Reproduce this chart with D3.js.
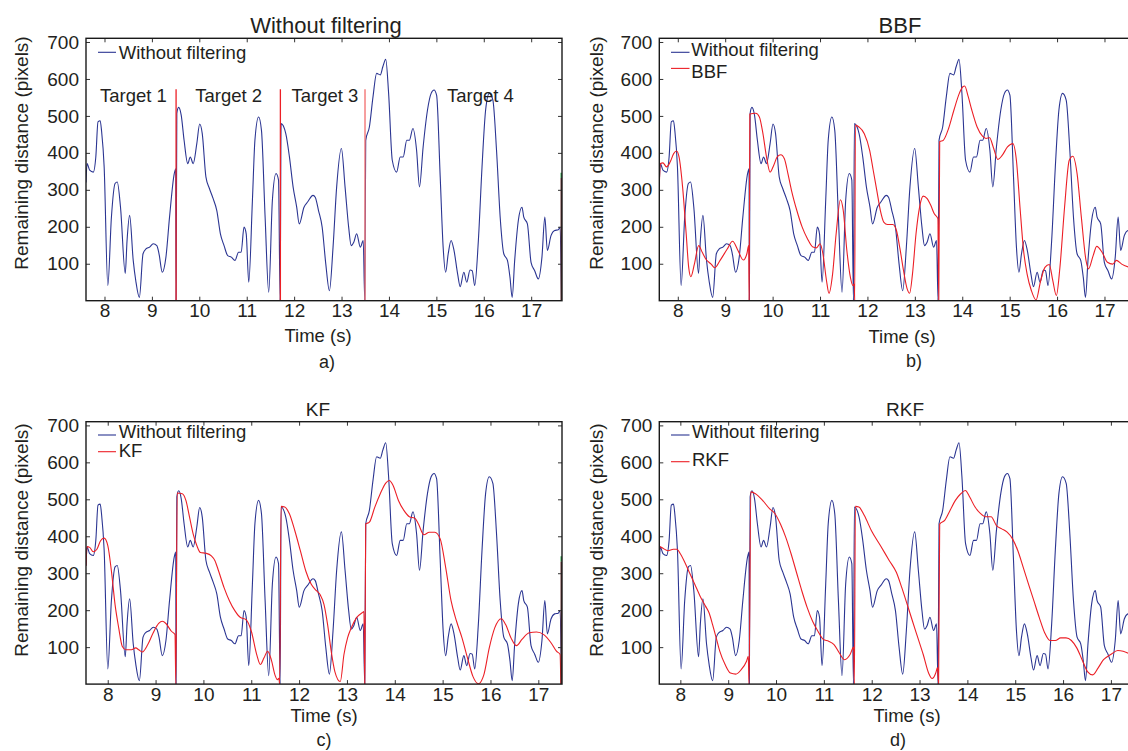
<!DOCTYPE html>
<html>
<head>
<meta charset="utf-8">
<script src="https://cdn.jsdelivr.net/npm/d3@7"></script>
<style>
  body { margin: 0; background: #fff; }
  svg { font-family: Arial, "Liberation Sans", Helvetica, sans-serif; fill: #231f20; }
</style>
</head>
<body>
<svg id="chart" width="1128" height="751"></svg>
<script>
// ---- data (time in s, remaining distance in pixels) ----
const rawTime = [7.61, 7.633, 7.687, 7.763, 7.817, 7.863, 7.909, 7.94, 7.993, 8.07, 8.146, 8.223, 8.269, 8.338, 8.438, 8.476, 8.53, 8.606, 8.66, 8.736, 8.813, 8.874, 8.951, 9.028, 9.104, 9.15, 9.219, 9.296, 9.372, 9.472, 9.503, 9.51,
  9.526, 9.564, 9.618, 9.679, 9.756, 9.809, 9.871, 9.947, 10.008, 10.062, 10.139, 10.215, 10.292, 10.369, 10.445, 10.522, 10.599, 10.675, 10.752, 10.828, 10.882, 10.943, 10.989, 11.043, 11.12, 11.173, 11.25, 11.311, 11.388, 11.464, 11.541, 11.618, 11.671, 11.705,
  11.725, 11.824, 11.901, 11.978, 12.054, 12.108, 12.208, 12.284, 12.399, 12.445, 12.514, 12.591, 12.668, 12.744, 12.821, 12.897, 12.997, 13.074, 13.15, 13.204, 13.258, 13.319, 13.396, 13.457, 13.49,
  13.51, 13.587, 13.664, 13.74, 13.817, 13.871, 13.932, 13.993, 14.07, 14.162, 14.238, 14.3, 14.376, 14.43, 14.506, 14.583, 14.644, 14.721, 14.813, 14.89, 14.951, 15.005, 15.081, 15.143, 15.196, 15.25, 15.311, 15.372, 15.449, 15.503, 15.579, 15.641, 15.71, 15.756, 15.809, 15.886, 15.963, 16.039, 16.116, 16.192, 16.269, 16.346, 16.422, 16.499, 16.553, 16.599, 16.652, 16.729, 16.806, 16.844, 16.92, 16.997, 17.074, 17.15, 17.227, 17.288, 17.341, 17.418, 17.495, 17.572, 17.61, 17.64];
const rawDistance = [320, 371, 353, 348, 389, 484, 487, 457, 362, 41, 226, 317, 321, 253, 74, 163, 231, 109, 54, 9, 127, 140, 145, 154, 149, 127, 77, 118, 226, 344, 357, 0,
  507, 523, 502, 434, 371, 389, 371, 425, 478, 452, 335, 303, 276, 244, 181, 149, 122, 118, 109, 131, 131, 199, 181, 50, 271, 434, 497, 461, 226, 23, 271, 344, 326, 0,
  479, 452, 389, 308, 253, 208, 253, 267, 285, 280, 244, 199, 99, 27, 145, 308, 412, 308, 199, 149, 158, 181, 145, 163, 0,
  434, 470, 552, 615, 611, 633, 653, 561, 380, 348, 389, 389, 434, 434, 466, 407, 308, 416, 516, 561, 570, 556, 335, 145, 77, 127, 163, 136, 72, 38, 77, 50, 83, 81, 41, 163, 362, 516, 561, 543, 407, 226, 127, 109, 63, 9, 109, 217, 253, 226, 208, 104, 81, 59, 118, 226, 136, 176, 190, 192, 199, 0];

const bbfTime = [7.612, 7.635, 7.687, 7.762, 7.838, 7.913, 7.973, 8.026, 8.101, 8.177, 8.23, 8.275, 8.35, 8.44, 8.516, 8.591, 8.704, 8.779, 8.892, 9.043, 9.156, 9.269, 9.382, 9.457, 9.495, 9.505,
  9.52, 9.646, 9.721, 9.796, 9.871, 9.947, 10.022, 10.097, 10.173, 10.248, 10.323, 10.399, 10.511, 10.624, 10.737, 10.85, 10.926, 11.001, 11.061, 11.137, 11.189, 11.265, 11.34, 11.43, 11.49, 11.566, 11.641, 11.694, 11.724, 11.731,
  11.746, 11.821, 11.934, 12.047, 12.122, 12.198, 12.273, 12.348, 12.423, 12.536, 12.612, 12.687, 12.762, 12.838, 12.89, 12.95, 13.025, 13.1, 13.175, 13.26, 13.336, 13.41, 13.486, 13.505,
  13.524, 13.6, 13.712, 13.825, 13.938, 14.013, 14.051, 14.126, 14.201, 14.314, 14.427, 14.502, 14.577, 14.653, 14.751, 14.841, 14.954, 15.067, 15.142, 15.218, 15.293, 15.368, 15.459, 15.556, 15.654, 15.744, 15.835, 15.91, 15.985, 16.06, 16.158, 16.257, 16.332, 16.422, 16.512, 16.61, 16.663, 16.761, 16.836, 16.949, 17.062, 17.175, 17.25, 17.363, 17.536];
const bbfDistance = [321, 371, 373, 362, 375, 398, 405, 389, 308, 181, 90, 65, 99, 149, 131, 113, 99, 89, 109, 140, 161, 136, 110, 127, 149, 0,
  505, 507, 497, 452, 389, 348, 366, 389, 395, 384, 344, 298, 244, 199, 167, 145, 143, 154, 127, 54, 20, 72, 181, 273, 244, 136, 63, 41, 45, 0,
  475, 470, 452, 407, 353, 298, 244, 212, 206, 206, 190, 140, 81, 32, 20, 72, 181, 253, 283, 276, 258, 235, 222, 0,
  430, 434, 466, 516, 561, 579, 581, 552, 516, 470, 445, 439, 441, 416, 382, 393, 416, 425, 380, 253, 136, 72, 27, 2, 54, 90, 98, 54, 14, 90, 253, 380, 391, 344, 226, 109, 86, 122, 147, 131, 104, 99, 109, 99, 90];

const kfTime = [7.61, 7.633, 7.687, 7.763, 7.84, 7.917, 7.993, 8.07, 8.146, 8.223, 8.3, 8.376, 8.453, 8.568, 8.66, 8.721, 8.798, 8.913, 9.028, 9.143, 9.219, 9.296, 9.411, 9.487, 9.505,
  9.533, 9.641, 9.717, 9.794, 9.871, 9.947, 10.024, 10.139, 10.254, 10.33, 10.407, 10.522, 10.637, 10.752, 10.867, 10.982, 11.097, 11.211, 11.288, 11.365, 11.441, 11.518, 11.595, 11.648, 11.679, 11.694,
  11.725, 11.802, 11.9, 12.015, 12.131, 12.246, 12.361, 12.476, 12.553, 12.629, 12.706, 12.782, 12.859, 12.974, 13.051, 13.127, 13.204, 13.319, 13.434, 13.472, 13.49,
  13.51, 13.587, 13.702, 13.817, 13.932, 14.008, 14.085, 14.2, 14.315, 14.43, 14.545, 14.622, 14.737, 14.851, 14.966, 15.081, 15.196, 15.311, 15.426, 15.541, 15.656, 15.771, 15.886, 16.001, 16.116, 16.231, 16.369, 16.461, 16.575, 16.69, 16.805, 16.958, 17.112, 17.265, 17.418, 17.533, 17.61, 17.625];
const kfDistance = [320, 372, 370, 358, 365, 388, 395, 375, 306, 215, 152, 102, 93, 93, 98, 93, 87, 107, 139, 164, 170, 164, 143, 134, 0,
  517, 515, 497, 452, 406, 375, 356, 354, 347, 334, 306, 261, 225, 198, 180, 175, 143, 80, 53, 71, 89, 66, 25, 12, 16, 0,
  481, 479, 461, 415, 361, 306, 270, 252, 241, 216, 161, 89, 34, 7, 80, 125, 152, 180, 193, 196, 0,
  433, 438, 479, 515, 544, 551, 538, 497, 470, 453, 449, 433, 404, 411, 411, 393, 316, 225, 170, 125, 71, 21, 1, 25, 98, 152, 177, 161, 125, 104, 121, 139, 141, 134, 112, 89, 80, 0];

const rkfTime = [7.605, 7.62, 7.68, 7.793, 7.906, 7.981, 8.057, 8.132, 8.245, 8.358, 8.471, 8.584, 8.659, 8.734, 8.81, 8.885, 8.998, 9.111, 9.224, 9.337, 9.45, 9.487, 9.502,
  9.54, 9.638, 9.789, 9.939, 10.052, 10.165, 10.278, 10.391, 10.504, 10.617, 10.73, 10.843, 10.956, 11.069, 11.182, 11.295, 11.408, 11.521, 11.634, 11.709, 11.724,
  11.746, 11.821, 11.935, 12.085, 12.273, 12.462, 12.612, 12.725, 12.838, 12.951, 13.064, 13.177, 13.29, 13.365, 13.441, 13.478, 13.501,
  13.524, 13.629, 13.742, 13.855, 13.968, 14.066, 14.157, 14.27, 14.382, 14.495, 14.608, 14.721, 14.834, 14.947, 15.06, 15.173, 15.286, 15.399, 15.512, 15.625, 15.738, 15.851, 15.963, 16.076, 16.189, 16.302, 16.415, 16.528, 16.641, 16.754, 16.867, 16.98, 17.131, 17.281, 17.394, 17.53];
const rkfDistance = [320, 372, 368, 361, 365, 365, 352, 334, 302, 270, 238, 211, 193, 161, 125, 89, 53, 30, 27, 39, 62, 75, 0,
  520, 515, 497, 474, 461, 433, 397, 352, 302, 252, 207, 170, 143, 121, 116, 107, 84, 66, 80, 100, 0,
  481, 479, 456, 415, 375, 334, 302, 261, 216, 170, 125, 80, 30, 15, 30, 45, 0,
  433, 443, 470, 497, 515, 524, 506, 479, 462, 453, 453, 429, 420, 411, 393, 361, 316, 270, 225, 180, 139, 118, 118, 125, 125, 118, 98, 66, 34, 25, 44, 66, 80, 91, 89, 82];

const targetSwitchTimes = [9.51, 11.71, 13.495];
const targetSwitchHeight = 572;
const targetNames = ['Target 1', 'Target 2', 'Target 3', 'Target 4'];
const targetLabelTimes = [8.61, 10.62, 12.65, 15.93];
const targetLabelDistance = 556;
const endMarkTime = 17.64;
const endMarkHeight = 332;
const endMarkGreen = 346;

const xTicks = [8, 9, 10, 11, 12, 13, 14, 15, 16, 17];
const yTicks = [100, 200, 300, 400, 500, 600, 700];

// ---- layout ----
const BLUE = '#2b3592';
const RED = '#ec1f26';
const boxW = 476, boxH = 262.4;
const dataDomain = [7.61, 17.65];
const yDomain = [0, 710];

const toPairs = (t, v) => t.map((d, i) => [d, v[i]]);
const raw = toPairs(rawTime, rawDistance);

const panels = [
  { left: 86, top: 38.3, tickDomain: [7.61, 17.65],
    title: 'Without filtering', titleX: 326, titleY: 25, titleSize: 22,
    yLabelX: 21.7, yLabelY: 153, timeX: 318, timeY: 335, tag: 'a)', tagX: 327, tagY: 362,
    filtered: null, separators: true, endMark: true,
    legend: [{ name: 'Without filtering', color: BLUE, lineY: 14, textY: 14 }],
    legendX: [12, 30, 32.7] },
  { left: 659.3, top: 38.3, tickDomain: [7.61, 17.65],
    title: 'BBF', titleX: 900, titleY: 25, titleSize: 22,
    yLabelX: 596, yLabelY: 153, timeX: 902, timeY: 336, tag: 'b)', tagX: 914, tagY: 361,
    filtered: toPairs(bbfTime, bbfDistance), separators: false, endMark: false,
    legend: [{ name: 'Without filtering', color: BLUE, lineY: 14, textY: 10.7 },
             { name: 'BBF', color: RED, lineY: 30.1, textY: 33.4 }],
    legendX: [11.7, 30.2, 32] },
  { left: 86, top: 421.7, tickDomain: [7.546, 17.495],
    title: 'KF', titleX: 318, titleY: 409, titleSize: 19,
    yLabelX: 21.5, yLabelY: 540, timeX: 324, timeY: 715, tag: 'c)', tagX: 324, tagY: 740,
    filtered: toPairs(kfTime, kfDistance), separators: false, endMark: true,
    legend: [{ name: 'Without filtering', color: BLUE, lineY: 13.3, textY: 9.5 },
             { name: 'KF', color: RED, lineY: 30, textY: 28.8 }],
    legendX: [12, 30, 32.7] },
  { left: 659.3, top: 421.7, tickDomain: [7.56, 17.51],
    title: 'RKF', titleX: 905, titleY: 409, titleSize: 19,
    yLabelX: 596, yLabelY: 540, timeX: 907, timeY: 715, tag: 'd)', tagX: 898, tagY: 740,
    filtered: toPairs(rkfTime, rkfDistance), separators: false, endMark: false,
    legend: [{ name: 'Without filtering', color: BLUE, lineY: 13.3, textY: 9.5 },
             { name: 'RKF', color: RED, lineY: 40, textY: 37.3 }],
    legendX: [11.7, 30.2, 32.7] }
];

const svg = d3.select('#chart');

panels.forEach((p, idx) => {
  const g = svg.append('g');
  const x = d3.scaleLinear().domain(dataDomain).range([p.left, p.left + boxW]);
  const xt = d3.scaleLinear().domain(p.tickDomain).range([p.left, p.left + boxW]);
  const y = d3.scaleLinear().domain(yDomain).range([p.top + boxH, p.top]);

  const clipId = `clip-${idx}`;
  svg.append('clipPath').attr('id', clipId)
    .append('rect').attr('x', p.left).attr('y', p.top).attr('width', boxW).attr('height', boxH);

  const line = d3.line()
    .x((d) => x(d[0]))
    .y((d) => y(d[1]))
    .curve(d3.curveMonotoneX);

  const plot = g.append('g').attr('clip-path', `url(#${clipId})`);

  plot.append('path')
    .attr('d', line(raw))
    .attr('fill', 'none')
    .attr('stroke', BLUE)
    .attr('stroke-width', 1.1);

  if (p.filtered) {
    plot.append('path')
      .attr('d', line(p.filtered))
      .attr('fill', 'none')
      .attr('stroke', RED)
      .attr('stroke-width', 1.1);
  }

  if (p.separators) {
    targetSwitchTimes.forEach((t, i) => {
      plot.append('line')
        .attr('x1', x(t)).attr('x2', x(t))
        .attr('y1', y(0)).attr('y2', y(targetSwitchHeight))
        .attr('stroke', i === 2 ? '#f26b6b' : RED)
        .attr('stroke-width', 1.3);
    });
    targetNames.forEach((name, i) => {
      g.append('text')
        .attr('x', x(targetLabelTimes[i]))
        .attr('y', y(targetLabelDistance))
        .attr('text-anchor', 'middle')
        .attr('dominant-baseline', 'central')
        .attr('font-size', 18.5)
        .text(name);
    });
  }

  if (p.endMark) {
    plot.append('line')
      .attr('x1', x(endMarkTime)).attr('x2', x(endMarkTime))
      .attr('y1', y(0)).attr('y2', y(endMarkHeight))
      .attr('stroke', '#5b2a2a').attr('stroke-width', 2);
    plot.append('line')
      .attr('x1', x(endMarkTime)).attr('x2', x(endMarkTime))
      .attr('y1', y(endMarkHeight)).attr('y2', y(endMarkGreen))
      .attr('stroke', '#27a244').attr('stroke-width', 2);
  }

  // axes: inward ticks on all four sides, labels bottom and left
  const bottom = g.append('g')
    .attr('transform', `translate(0,${p.top + boxH})`)
    .call(d3.axisBottom(xt).tickValues(xTicks).tickSize(-4).tickPadding(3).tickFormat(d3.format('d')));
  const topAx = g.append('g')
    .attr('transform', `translate(0,${p.top})`)
    .call(d3.axisTop(xt).tickValues(xTicks).tickSize(-4).tickFormat(''));
  const leftAx = g.append('g')
    .attr('transform', `translate(${p.left},0)`)
    .call(d3.axisLeft(y).tickValues(yTicks).tickSize(-4).tickPadding(7).tickFormat(d3.format('d')));
  const rightAx = g.append('g')
    .attr('transform', `translate(${p.left + boxW},0)`)
    .call(d3.axisRight(y).tickValues(yTicks).tickSize(-4).tickFormat(''));

  [bottom, topAx, leftAx, rightAx].forEach((ax) => {
    ax.select('.domain').remove();
    ax.selectAll('.tick line').attr('stroke', '#333').attr('stroke-width', 1);
    ax.selectAll('.tick text')
      .attr('font-size', 19)
      .attr('font-family', 'Arial, "Liberation Sans", sans-serif')
      .attr('fill', '#231f20');
  });

  g.append('rect')
    .attr('x', p.left).attr('y', p.top)
    .attr('width', boxW).attr('height', boxH)
    .attr('fill', 'none')
    .attr('stroke', '#1a1a1a')
    .attr('stroke-width', 1.4);

  // legend
  const [lx1, lx2, tx] = p.legendX;
  p.legend.forEach((item) => {
    g.append('line')
      .attr('x1', p.left + lx1).attr('x2', p.left + lx2)
      .attr('y1', p.top + item.lineY).attr('y2', p.top + item.lineY)
      .attr('stroke', item.color).attr('stroke-width', 1.1);
    g.append('text')
      .attr('x', p.left + tx)
      .attr('y', p.top + item.textY)
      .attr('dominant-baseline', 'central')
      .attr('font-size', 18.5)
      .text(item.name);
  });

  // titles and labels
  g.append('text')
    .attr('x', p.titleX).attr('y', p.titleY)
    .attr('text-anchor', 'middle')
    .attr('dominant-baseline', 'central')
    .attr('font-size', p.titleSize)
    .text(p.title);

  g.append('text')
    .attr('transform', `translate(${p.yLabelX},${p.yLabelY}) rotate(-90)`)
    .attr('text-anchor', 'middle')
    .attr('dominant-baseline', 'central')
    .attr('font-size', 19)
    .text('Remaining distance (pixels)');

  g.append('text')
    .attr('x', p.timeX).attr('y', p.timeY)
    .attr('text-anchor', 'middle')
    .attr('dominant-baseline', 'central')
    .attr('font-size', 18.5)
    .text('Time (s)');

  g.append('text')
    .attr('x', p.tagX).attr('y', p.tagY)
    .attr('text-anchor', 'middle')
    .attr('dominant-baseline', 'central')
    .attr('font-size', 18)
    .text(p.tag);
});
</script>
</body>
</html>
